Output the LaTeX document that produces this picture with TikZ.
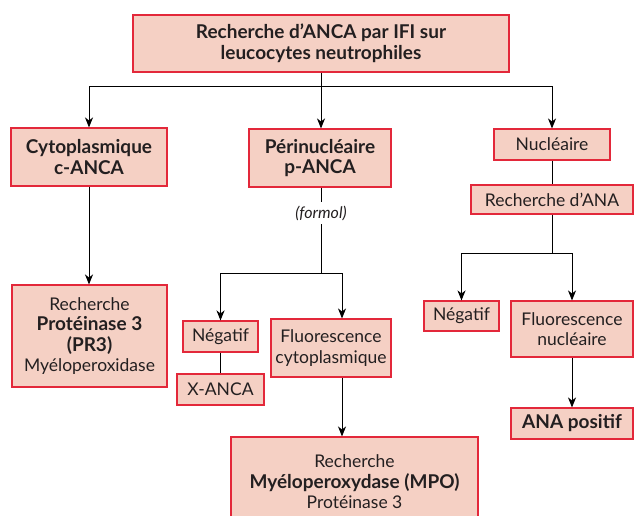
\documentclass[tikz,border=0pt]{standalone}
\usepackage{fontspec}
\setmainfont{Lato}
\usetikzlibrary{arrows.meta}
\definecolor{boxfill}{HTML}{F5D0C4}
\definecolor{boxline}{HTML}{E3283A}
\definecolor{inkgray}{HTML}{231F20}
\newcommand{\bigb}{\fontsize{19}{20.5}\selectfont\bfseries}
\begin{document}
\begin{tikzpicture}[x=1pt,y=-1pt,line width=0.9pt,font=\fontsize{17.5}{20.5}\selectfont]
    \tikzstyle{box}=[draw=boxline,fill=boxfill,line width=1.1pt,text=inkgray,align=center,inner sep=0pt]
    \tikzstyle{arr}=[-{Stealth[length=10pt,width=8pt,inset=3pt]}]
    \tikzstyle{miss node}=[inner sep=0,minimum size=0]
    \useasboundingbox (0,0) rectangle (634,515);
    \clip (0,0) rectangle (634,515);
    % first level
    \node[box,minimum width=376pt,minimum height=57pt] (top) at (321,43.5) {\bigb Recherche d’ANCA par IFI sur\\\bigb leucocytes neutrophiles};
    \node[box,minimum width=156pt,minimum height=58pt] (cyto) at (89,157) {\bigb Cytoplasmique\\\bigb c-ANCA};
    \node[box,minimum width=142pt,minimum height=58pt] (peri) at (320,158) {\bigb Périnucléaire\\\bigb p-ANCA};
    \node[box,minimum width=116pt,minimum height=31pt] (nuc) at (552,144.5) {Nucléaire};
    \node[box,minimum width=162pt,minimum height=29pt] (rana) at (552,199.5) {Recherche d’ANA};
    % second level
    \node[box,minimum width=155pt,minimum height=102pt] (pr3) at (89.5,336) {Recherche\\\bigb Protéinase 3\\\bigb (PR3)\\Myéloperoxidase};
    \node[box,minimum width=75pt,minimum height=31pt] (neg1) at (220.5,336.5) {Négatif};
    \node[box,minimum width=87pt,minimum height=31pt] (xanca) at (220.5,389.5) {X-ANCA};
    \node[box,minimum width=120pt,minimum height=58pt] (fcyto) at (331,348) {Fluorescence\\cytoplasmique};
    \node[box,minimum width=247pt,minimum height=90pt] (mpo) at (354.5,482) {Recherche\\\bigb Myéloperoxydase (MPO)\\Protéinase 3};
    \node[box,minimum width=75pt,minimum height=30pt] (neg2) at (461.5,316) {Négatif};
    \node[box,minimum width=122pt,minimum height=56pt] (fnuc) at (572,329) {Fluorescence\\nucléaire};
    \node[box,minimum width=122pt,minimum height=31pt] (anapos) at (572,423.5) {\bigb ANA positif};
    % helper points
    \node[miss node] (s1) at (321,86) {};
    \node[miss node] (s2) at (321,273) {};
    \node[miss node] (s3) at (552,253) {};
    \node[miss node] (c1) at (89,86) {};
    \node[miss node] (c2) at (552,86) {};
    \node[miss node] (c3) at (220.5,273) {};
    \node[miss node] (c4) at (342,273) {};
    \node[miss node] (c5) at (461.5,253) {};
    \node[miss node] (c6) at (572,253) {};
    \node[text=inkgray,font=\fontsize{16}{18}\selectfont\itshape] (formol) at (321,213) {(formol)};
    % connectors
    \draw (top) -- (s1);
    \draw (c1) -- (c2);
    \draw[arr] (c1) -- (cyto);
    \draw[arr] (s1) -- (s1 |- peri.north);
    \draw[arr] (c2) -- (nuc);
    \draw[arr] (cyto) -- (cyto |- pr3.north);
    \draw (peri.south -| s1) -- (formol.north);
    \draw (formol.south) -- (s2);
    \draw (c3) -- (c4);
    \draw[arr] (c3) -- (neg1);
    \draw[arr] (c4) -- (c4 |- fcyto.north);
    \draw (neg1) -- (xanca);
    \draw[arr] (c4 |- fcyto.south) -- (c4 |- mpo.north);
    \draw (nuc) -- (rana);
    \draw (rana) -- (s3);
    \draw (c5) -- (c6);
    \draw[arr] (c5) -- (neg2);
    \draw[arr] (c6) -- (fnuc);
    \draw[arr] (fnuc) -- (anapos);
\end{tikzpicture}
\end{document}
